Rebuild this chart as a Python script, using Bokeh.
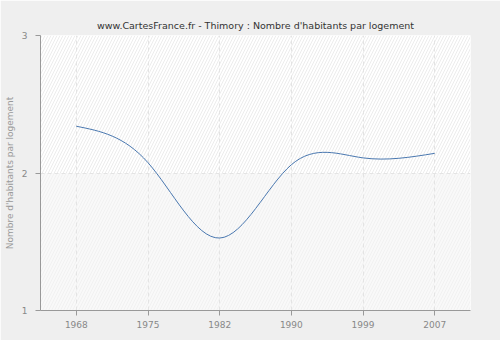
import numpy as np
from bokeh.plotting import figure
from bokeh.models import Range1d, FixedTicker
from bokeh.embed import file_html
from bokeh.resources import INLINE

years = ["1968", "1975", "1982", "1990", "1999", "2007"]
values = [2.34, 2.075, 1.527, 2.06, 2.11, 2.143]
y_ticks = [1, 2, 3]
title = "www.CartesFrance.fr - Thimory : Nombre d'habitants par logement"
y_label = "Nombre d'habitants par logement"

# natural cubic spline -> bezier segments (smoothing of the drawn line)
n = len(values)
xs = np.arange(n, dtype=float)
ys = np.array(values, dtype=float)
A = np.zeros((n, n)); b = np.zeros(n)
A[0, 0] = 1; A[-1, -1] = 1
for i in range(1, n - 1):
    A[i, i - 1] = 1; A[i, i] = 4; A[i, i + 1] = 1
    b[i] = 6 * (ys[i + 1] - 2 * ys[i] + ys[i - 1])
M = np.linalg.solve(A, b)
d = ys[1:] - ys[:-1]
s0 = d - (2 * M[:-1] + M[1:]) / 6
s1 = d + (M[:-1] + 2 * M[1:]) / 6

p = figure(width=500, height=340, output_backend="svg", toolbar_location=None,
           x_range=Range1d(-0.5, n - 0.5), y_range=Range1d(1, 3),
           min_border_left=40, min_border_right=30, min_border_top=35, min_border_bottom=30)
p.title.text = title
p.title.align = "center"
p.title.offset = 17
p.title.text_font = "DejaVu Sans"
p.title.text_font_size = "9.5px"
p.title.text_font_style = "normal"
p.title.text_color = "#333333"
p.background_fill_color = "white"
p.border_fill_color = "#efefef"
p.outline_line_color = None

# background bands with hatch
p.quad(left=[-0.5], right=[n - 0.5], bottom=[2], top=[3], fill_color="white",
       line_color=None, hatch_pattern="/", hatch_color="#ececec", hatch_scale=6,
       hatch_weight=1, level="image")
p.quad(left=[-0.5], right=[n - 0.5], bottom=[1], top=[2], fill_color="#f9f9f9",
       line_color=None, hatch_pattern="/", hatch_color="#f1f1f1", hatch_scale=6,
       hatch_weight=1, level="image")

p.bezier(x0=xs[:-1], y0=ys[:-1], x1=xs[1:], y1=ys[1:],
         cx0=xs[:-1] + 1 / 3, cy0=ys[:-1] + s0 / 3,
         cx1=xs[1:] - 1 / 3, cy1=ys[1:] - s1 / 3,
         line_color="#4a78b0", line_width=1)

p.xaxis.ticker = FixedTicker(ticks=list(range(n)))
p.xaxis.major_label_overrides = {i: y for i, y in enumerate(years)}
p.yaxis.ticker = FixedTicker(ticks=y_ticks)
p.yaxis.axis_label = y_label
for ax in (p.xaxis[0], p.yaxis[0]):
    ax.axis_line_color = "#999999"
    ax.major_tick_line_color = "#999999"
    ax.major_tick_in = 0
    ax.major_tick_out = 5
    ax.minor_tick_line_color = None
    ax.major_label_text_font = "DejaVu Sans"
    ax.major_label_text_font_size = "9px"
    ax.major_label_text_color = "#888888"
p.yaxis.major_label_standoff = 8
p.yaxis.axis_label_text_font = "DejaVu Sans"
p.yaxis.axis_label_text_font_size = "9px"
p.yaxis.axis_label_text_font_style = "normal"
p.yaxis.axis_label_text_color = "#999999"
p.yaxis.axis_label_standoff = 4

for g in (p.xgrid[0], p.ygrid[0]):
    g.grid_line_color = "#e4e4e4"
    g.grid_line_dash = "4 3"
    g.grid_line_width = 1

open("out.html", "w").write(file_html(p, INLINE))
